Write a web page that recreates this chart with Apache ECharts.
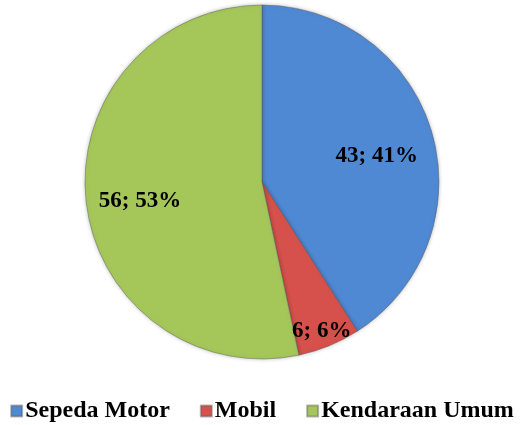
<!DOCTYPE html>
<html>
<head>
<meta charset="utf-8">
<script src="https://cdn.jsdelivr.net/npm/echarts@6/dist/echarts.min.js"></script>
<style>
  html, body { margin: 0; padding: 0; background: #fff; }
  #chart { width: 524px; height: 425px; }
</style>
</head>
<body>
<div id="chart"></div>
<script>
const categories = ['Sepeda Motor', 'Mobil', 'Kendaraan Umum']
const values = [43, 6, 56]
const percents = [41, 6, 53]
const colors = ['#5089d3', '#d6514c', '#a5c75a']

// label nudges so they sit where the original puts them
const labelShift = [[27, 0], [25, 64], [-31, 9]]

const chart = echarts.init(document.getElementById('chart'))

const option = {
  animation: false,
  color: colors,
  legend: {
    bottom: -3,
    left: 'center',
    icon: 'rect',
    itemWidth: 11,
    itemHeight: 11,
    itemGap: 30,
    textStyle: {
      fontFamily: 'Liberation Serif',
      fontWeight: 'bold',
      fontSize: 24,
      color: '#000',
      padding: [0, 0, 0, -2]
    },
    data: categories
  },
  series: [
    {
      type: 'pie',
      center: [262, 182],
      radius: 177,
      startAngle: 90,
      clockwise: true,
      label: {
        position: 'inside',
        fontFamily: 'Liberation Serif',
        fontWeight: 'bold',
        fontSize: 23,
        color: '#000',
        formatter: p => values[p.dataIndex] + '; ' + percents[p.dataIndex] + '%'
      },
      labelLayout: p => ({ dx: labelShift[p.dataIndex][0], dy: labelShift[p.dataIndex][1] }),
      itemStyle: {
        borderColor: 'rgba(90,90,90,0.45)',
        borderWidth: 1,
        shadowBlur: 4,
        shadowColor: 'rgba(0,0,0,0.25)'
      },
      emphasis: { disabled: true },
      data: categories.map((name, i) => ({ name: name, value: values[i] }))
    }
  ]
}

chart.setOption(option)
</script>
</body>
</html>
